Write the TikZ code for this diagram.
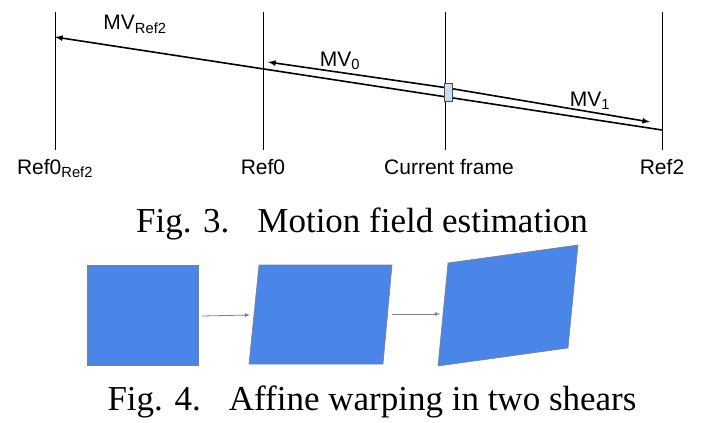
\documentclass[tikz,border=0pt]{standalone}
\usepackage{fontspec}
\setmainfont{Liberation Serif}
\setsansfont{Liberation Sans}
\usetikzlibrary{positioning}
\definecolor{warpblue}{HTML}{4A86E8}
\definecolor{blockblue}{HTML}{C9DDF0}

\begin{document}
\begin{tikzpicture}[
    x=1pt,
    y=-1pt,
    thick,
    frame line/.style={draw=black,line width=0.6pt},
    mv line/.style={draw=black,line width=1.6pt},
    mv arrow/.style={mv line,-latex},
    frame label/.style={font=\sffamily\fontsize{21}{21}\selectfont,anchor=base},
    mv label/.style={font=\sffamily\fontsize{21}{21}\selectfont,anchor=base},
    caption/.style={font=\fontsize{35}{35}\selectfont,anchor=base},
    warp box/.style={fill=warpblue,draw=gray,line width=0.6pt},
    warp arrow/.style={draw=gray,line width=0.8pt,-latex}
    ]
    \useasboundingbox (0,0) rectangle (713,423);

    % frames
    \foreach \x/\name in {55/fa,263/fb,445/fc,662/fd} {
      \coordinate (\name top) at (\x,12);
      \coordinate (\name bot) at (\x,150);
      \draw[frame line] (\name top) -- (\name bot);
    }

    \node[frame label] (l1) at (55,174) {Ref0\textsubscript{Ref2}};
    \node[frame label] (l2) at (263,174) {Ref0};
    \node[frame label] (l3) at (449,174) {Current frame};
    \node[frame label] (l4) at (662,174) {Ref2};

    % motion vectors
    \coordinate (mvr start) at (662,130);
    \coordinate (mvr end) at (55,37);
    \coordinate (mv start) at (448,88);
    \coordinate (mv0 end) at (268,62);
    \coordinate (mv1 end) at (650,122);
    \draw[mv arrow] (mvr start) -- (mvr end);
    \draw[mv arrow] (mv start) -- (mv0 end);
    \draw[mv arrow] (mv start) -- (mv1 end);
    \node[draw=black!70,fill=blockblue,line width=0.5pt,minimum width=8pt,
      minimum height=18pt,inner sep=0pt] (blk) at (448,92) {};

    \node[mv label] (mvr) at (135,30) {MV\textsubscript{Ref2}};
    \node[mv label] (mv0) at (340,66) {MV\textsubscript{0}};
    \node[mv label] (mv1) at (590,106) {MV\textsubscript{1}};

    \node[caption] (cap3) at (362,232) {Fig. 3.\hspace{0.8em}Motion field estimation};

    % shears
    \draw[warp box] (87,265) -- (198,265) -- (198,365) -- (87,365) -- cycle;
    \draw[warp box] (259,265) -- (392,265) -- (383,364) -- (249,364) -- cycle;
    \draw[warp box] (448,263) -- (578,245) -- (568,348) -- (438,366) -- cycle;
    \coordinate (w1) at (202,316);
    \coordinate (w2) at (250,315);
    \coordinate (w3) at (392,314);
    \coordinate (w4) at (440,314);
    \draw[warp arrow] (w1) -- (w2);
    \draw[warp arrow] (w3) -- (w4);

    \node[caption] (cap4) at (372,410) {Fig. 4.\hspace{0.8em}Affine warping in two shears};
\end{tikzpicture}
\end{document}
